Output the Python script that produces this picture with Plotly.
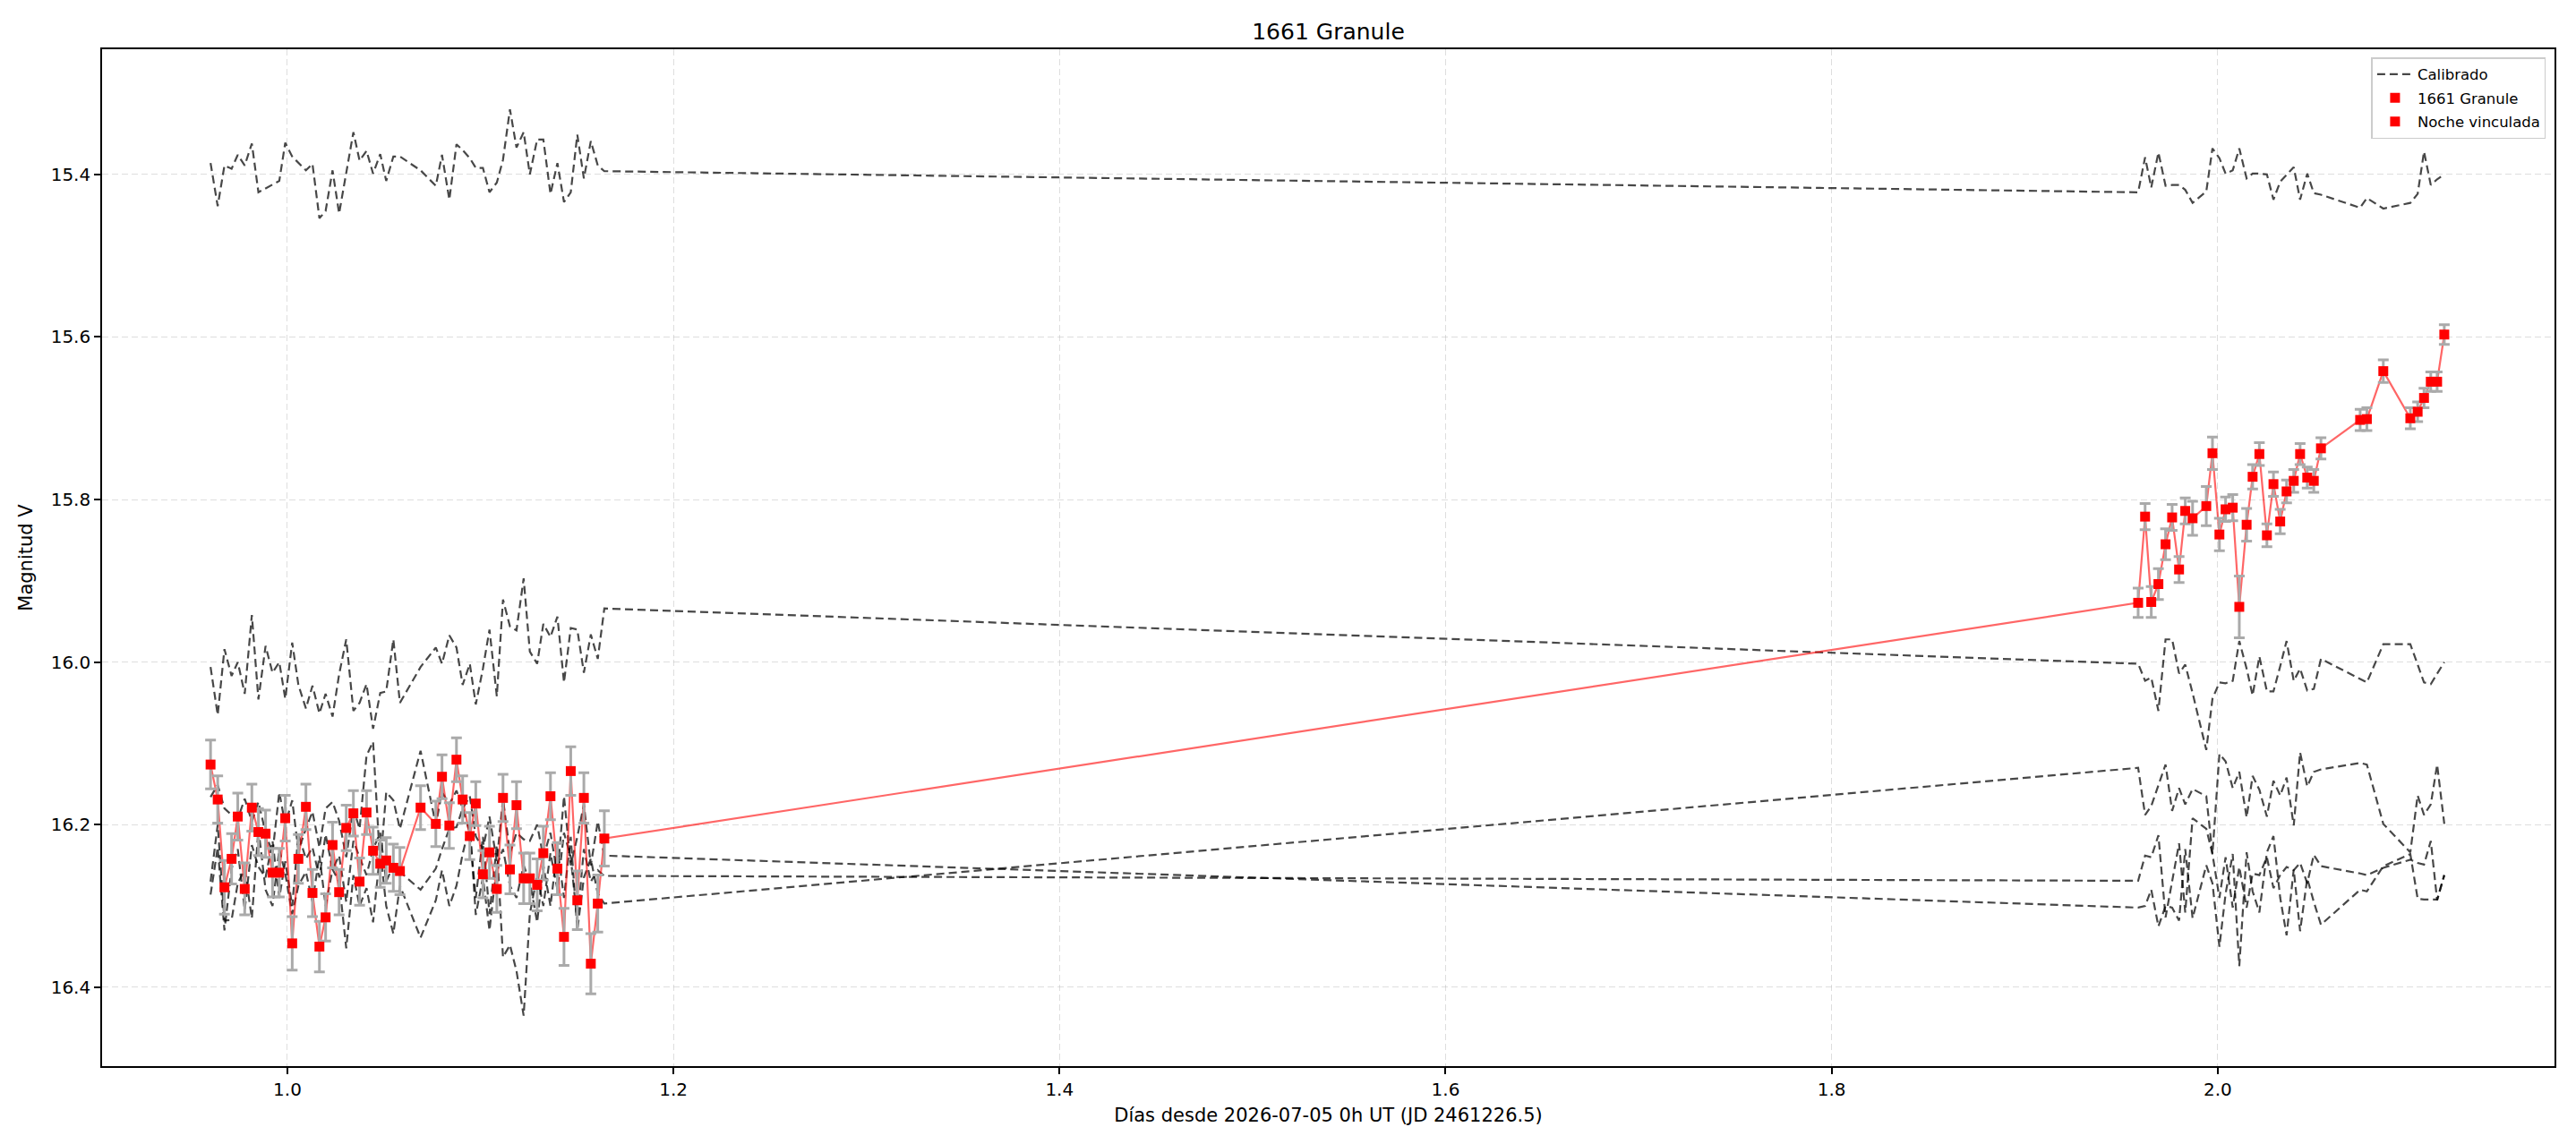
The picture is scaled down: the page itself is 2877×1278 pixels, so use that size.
import plotly.graph_objects as go

# ---------------- data ----------------
# times (days since 2026-07-05 0h UT)
t_night1 = [0.9602, 0.9639, 0.9674, 0.9711, 0.9743, 0.9779, 0.9816, 0.9850, 0.9887, 0.9923,
            0.9958, 0.9989, 1.0025, 1.0057, 1.0096, 1.0130, 1.0166, 1.0198, 1.0234, 1.0268,
            1.0305, 1.0342, 1.0374, 1.0410, 1.0444, 1.0481, 1.0512, 1.0549, 1.0583, 1.0690,
            1.0769, 1.0801, 1.0839, 1.0876, 1.0908, 1.0945, 1.0976, 1.1013, 1.1047, 1.1085,
            1.1117, 1.1153, 1.1187, 1.1224, 1.1256, 1.1294, 1.1326, 1.1363, 1.1399, 1.1433,
            1.1468, 1.1502, 1.1536, 1.1572, 1.1608, 1.1642]
t_night2 = [1.9588, 1.9624, 1.9656, 1.9693, 1.9730, 1.9764, 1.9800, 1.9832, 1.9870, 1.9941,
            1.9973, 2.0009, 2.0041, 2.0078, 2.0112, 2.0150, 2.0181, 2.0216, 2.0255, 2.0289,
            2.0324, 2.0357, 2.0394, 2.0427, 2.0464, 2.0498, 2.0535, 2.0738, 2.0773, 2.0858,
            2.0998, 2.1036, 2.1069, 2.1104, 2.1137, 2.1174]

# target magnitudes and errors
mag_night1 = [16.126, 16.169, 16.277, 16.242, 16.190, 16.279, 16.179, 16.209, 16.211, 16.259,
              16.259, 16.192, 16.346, 16.242, 16.178, 16.284, 16.350, 16.314, 16.225, 16.283,
              16.204, 16.186, 16.270, 16.185, 16.232, 16.248, 16.244, 16.253, 16.257, 16.179,
              16.199, 16.141, 16.201, 16.120, 16.169, 16.214, 16.174, 16.261, 16.234, 16.279,
              16.167, 16.255, 16.176, 16.266, 16.266, 16.274, 16.235, 16.165, 16.254, 16.338,
              16.134, 16.293, 16.167, 16.371, 16.297, 16.217]
err_night1 = [0.030, 0.029, 0.033, 0.031, 0.029, 0.032, 0.029, 0.029, 0.029, 0.030,
              0.030, 0.028, 0.033, 0.030, 0.028, 0.029, 0.031, 0.029, 0.028, 0.028,
              0.028, 0.028, 0.029, 0.027, 0.029, 0.029, 0.028, 0.029, 0.029, 0.027,
              0.028, 0.027, 0.028, 0.027, 0.029, 0.029, 0.027, 0.029, 0.032, 0.029,
              0.029, 0.030, 0.029, 0.031, 0.031, 0.032, 0.033, 0.029, 0.032, 0.035,
              0.030, 0.036, 0.031, 0.037, 0.035, 0.034]
mag_night2 = [15.927, 15.821, 15.926, 15.904, 15.855, 15.822, 15.886, 15.814, 15.823, 15.808,
              15.743, 15.843, 15.812, 15.810, 15.932, 15.831, 15.772, 15.744, 15.844, 15.781,
              15.827, 15.790, 15.777, 15.744, 15.773, 15.777, 15.737, 15.702, 15.701, 15.642,
              15.700, 15.692, 15.675, 15.655, 15.655, 15.597]
err_night2 = [0.018, 0.016, 0.019, 0.019, 0.019, 0.016, 0.016, 0.016, 0.021, 0.024,
              0.020, 0.020, 0.015, 0.016, 0.038, 0.020, 0.015, 0.014, 0.014, 0.015,
              0.015, 0.014, 0.014, 0.013, 0.013, 0.014, 0.013, 0.013, 0.014, 0.014,
              0.013, 0.012, 0.012, 0.012, 0.012, 0.012]

# calibrated comparison stars (night 1 values, then night 2 values)
comp1_n1 = [15.386, 15.439, 15.389, 15.393, 15.376, 15.389, 15.362, 15.422, None, None,
            15.408, 15.361, 15.378, 15.386, 15.395, 15.387, 15.454, 15.445, 15.395, 15.448,
            15.399, 15.348, 15.383, 15.371, 15.399, 15.375, 15.408, 15.378, 15.378, 15.395,
            15.414, 15.376, 15.431, 15.363, 15.370, 15.380, 15.392, 15.392, 15.422, 15.410,
            15.382, 15.320, 15.367, 15.348, 15.400, 15.357, 15.357, 15.424, 15.386, 15.434,
            15.422, 15.351, 15.405, 15.359, 15.389, 15.396]
comp1_n2 = [15.422, 15.379, 15.416, 15.373, 15.414, 15.413, 15.413, 15.419, 15.435, 15.421,
            15.368, 15.380, 15.399, 15.395, 15.368, 15.405, 15.399, 15.399, 15.400, 15.431,
            15.409, 15.400, 15.391, 15.431, 15.399, 15.423, 15.425, 15.441, 15.429, 15.442,
            15.435, 15.424, 15.372, 15.413, 15.406, 15.400]
comp2_n1 = [16.006, 16.065, 15.984, 16.017, 16.000, 16.039, 15.942, 16.046, 15.980, 16.013,
            16.000, 16.045, 15.976, 16.028, 16.057, 16.029, 16.063, 16.039, 16.067, 16.015,
            15.972, 16.060, 16.050, 16.027, 16.082, 16.038, 16.036, 15.972, 16.050, 16.006,
            15.982, 16.002, 15.967, 15.982, 16.028, 16.002, 16.052, 16.008, 15.960, 16.042,
            15.923, 15.956, 15.961, 15.897, 15.987, 16.002, 15.953, 15.969, 15.944, 16.025,
            15.958, 15.960, 16.013, 15.966, 15.996, 15.934]
comp2_n2 = [16.002, 16.023, 16.019, 16.060, 15.972, 15.972, 16.014, 16.003, 16.038, 16.108,
            16.045, 16.025, 16.026, 16.023, 15.974, 16.008, 16.041, 15.993, 16.036, 16.036,
            16.005, 15.974, 16.023, 16.008, 16.035, 16.033, 15.996, 16.021, 16.025, 15.978,
            15.978, 16.003, 16.025, 16.027, 16.014, 16.000]
comp3_n1 = [16.166, 16.151, 16.180, 16.188, 16.193, 16.168, 16.196, 16.172, 16.210, 16.235,
            16.160, 16.200, 16.170, 16.232, 16.205, 16.184, 16.228, 16.180, 16.172, 16.195,
            16.240, 16.180, 16.205, 16.115, 16.098, 16.250, 16.160, 16.170, 16.205, 16.109,
            16.200, 16.160, 16.175, 16.158, 16.180, 16.165, 16.214, 16.230, 16.190, 16.245,
            16.168, 16.235, 16.210, 16.218, 16.220, 16.200, 16.240, 16.210, 16.262, 16.165,
            16.250, 16.215, 16.175, 16.250, 16.196, 16.238]
comp3_n2 = [16.302, 16.300, 16.280, 16.325, 16.300, 16.302, 16.318, 16.230, 16.315, 16.250,
            16.272, 16.350, 16.285, 16.236, 16.374, 16.234, 16.282, 16.308, 16.234, 16.214,
            16.290, 16.336, 16.255, 16.331, 16.266, 16.295, 16.323, 16.280, 16.282, 16.251,
            16.236, 16.291, 16.292, 16.292, 16.292, 16.262]
comp4_n1 = [16.286, 16.228, 16.330, 16.254, 16.230, 16.305, 16.225, 16.252, 16.265, 16.220,
            16.290, 16.245, 16.300, 16.212, 16.242, 16.228, 16.265, 16.212, 16.255, 16.238,
            16.295, 16.220, 16.240, 16.262, 16.230, 16.210, 16.270, 16.250, 16.258, 16.280,
            16.254, 16.230, 16.205, 16.203, 16.180, 16.210, 16.290, 16.215, 16.310, 16.225,
            16.363, 16.348, 16.380, 16.435, 16.310, 16.262, 16.300, 16.235, 16.280, 16.210,
            16.240, 16.320, 16.230, 16.270, 16.256, 16.263]
comp4_n2 = [16.269, 16.238, 16.240, 16.213, 16.314, 16.268, 16.223, 16.308, 16.192, 16.205,
            16.236, 16.290, 16.240, 16.302, 16.252, 16.302, 16.260, 16.262, 16.240, 16.278,
            16.262, 16.252, 16.256, 16.247, 16.272, 16.237, 16.251, 16.260, 16.262, 16.253,
            16.243, 16.247, 16.249, 16.220, 16.293, 16.262]
comp5_n1 = [16.270, 16.200, 16.318, 16.317, 16.272, 16.255, 16.315, 16.205, 16.280, 16.300,
            16.230, 16.260, 16.310, 16.275, 16.258, 16.295, 16.238, 16.300, 16.255, 16.270,
            16.352, 16.262, 16.300, 16.278, 16.320, 16.232, 16.300, 16.334, 16.275, 16.339,
            16.293, 16.256, 16.300, 16.275, 16.236, 16.200, 16.311, 16.265, 16.330, 16.250,
            16.230, 16.275, 16.290, 16.250, 16.270, 16.320, 16.250, 16.300, 16.228, 16.290,
            16.215, 16.330, 16.265, 16.242, 16.285, 16.297]
comp5_n2 = [16.130, 16.188, 16.177, 16.151, 16.126, 16.183, 16.155, 16.175, 16.156, 16.165,
            16.236, 16.113, 16.122, 16.155, 16.135, 16.191, 16.140, 16.157, 16.190, 16.146,
            16.164, 16.142, 16.201, 16.111, 16.153, 16.135, 16.132, 16.124, 16.126, 16.199,
            16.234, 16.164, 16.188, 16.175, 16.126, 16.199]

x_ticks = [1.0, 1.2, 1.4, 1.6, 1.8, 2.0]
y_ticks = [15.4, 15.6, 15.8, 16.0, 16.2, 16.4]

title_text = "1661 Granule"
x_label = "Días desde 2026-07-05 0h UT (JD 2461226.5)"
y_label = "Magnitud V"

# ---------------- figure ----------------
FONT = "DejaVu Sans"
fig = go.Figure()

t_all = t_night1 + t_night2
comps = [(comp1_n1, comp1_n2), (comp2_n1, comp2_n2), (comp3_n1, comp3_n2),
         (comp4_n1, comp4_n2), (comp5_n1, comp5_n2)]
for i, (a, b) in enumerate(comps):
    fig.add_trace(go.Scatter(
        x=t_all, y=a + b, mode="lines", name="Calibrado",
        legendgroup="cal", showlegend=(i == 0), connectgaps=True,
        line=dict(color="rgba(0,0,0,0.72)", width=2.2, dash="9px,5px"),
        hoverinfo="skip"))

fig.add_trace(go.Scatter(
    x=t_all, y=mag_night1 + mag_night2, mode="lines", showlegend=False,
    line=dict(color="rgba(255,0,0,0.6)", width=2.2), hoverinfo="skip"))

err_style = dict(type="data", color="#aaaaaa", thickness=3, width=6)
fig.add_trace(go.Scatter(
    x=t_night1, y=mag_night1, mode="markers", name="1661 Granule",
    error_y=dict(array=err_night1, **err_style),
    marker=dict(symbol="square", size=11, color="red", line=dict(width=0))))
fig.add_trace(go.Scatter(
    x=t_night2, y=mag_night2, mode="markers", name="Noche vinculada",
    error_y=dict(array=err_night2, **err_style),
    marker=dict(symbol="square", size=11, color="red", line=dict(width=0))))

axis_common = dict(
    showline=True, linecolor="black", linewidth=1.6, mirror=True,
    ticks="outside", ticklen=7, tickwidth=1.6, tickcolor="black",
    showgrid=True, gridcolor="rgba(176,176,176,0.42)", griddash="7px,4px", gridwidth=1.3,
    zeroline=False, tickfont=dict(family=FONT, size=20, color="black"),
)

fig.update_layout(
    width=2877, height=1278,
    paper_bgcolor="white", plot_bgcolor="white",
    margin=dict(l=114, r=24, t=55, b=87),
    title=dict(text=title_text, x=0.5, xref="paper", xanchor="center",
               y=1 - 35 / 1278, yanchor="middle",
               font=dict(family=FONT, size=25, color="black")),
    font=dict(family=FONT, color="black"),
    xaxis=dict(range=[0.904, 2.1745], tickvals=x_ticks, tickformat=".1f",
               title=dict(text=x_label, font=dict(family=FONT, size=21), standoff=11),
               **axis_common),
    yaxis=dict(range=[16.497, 15.246], tickvals=y_ticks, tickformat=".1f",
               title=dict(text=y_label, font=dict(family=FONT, size=21), standoff=14),
               **axis_common),
    legend=dict(x=0.9965, y=0.992, xanchor="right", yanchor="top",
                bgcolor="rgba(255,255,255,0.85)", bordercolor="#cccccc", borderwidth=1.5,
                font=dict(family=FONT, size=16.5, color="black"),
                tracegroupgap=2, itemwidth=40),
    showlegend=True,
)

fig.write_html("out.html")
